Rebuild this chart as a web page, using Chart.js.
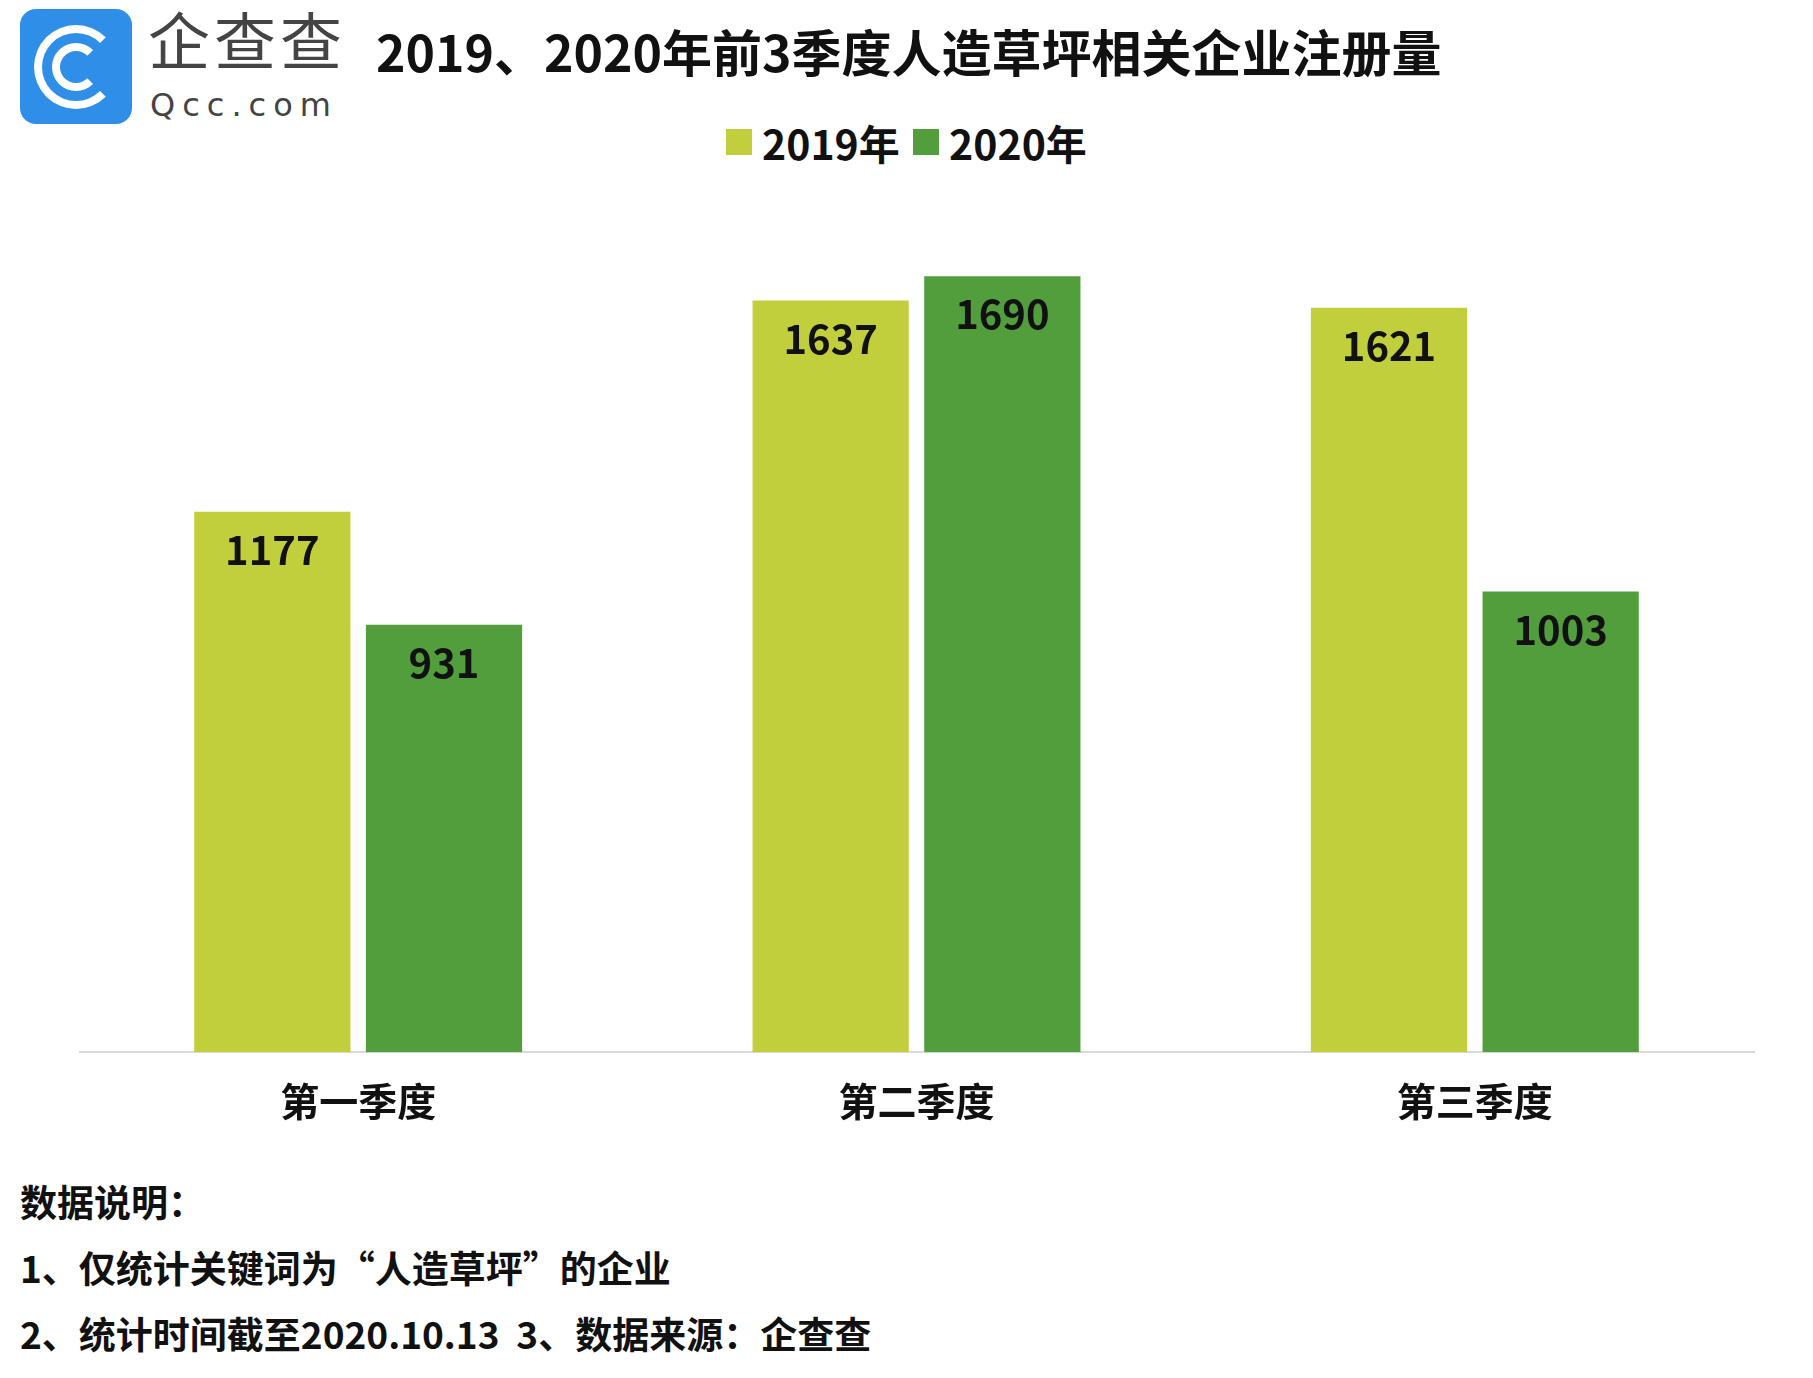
<!DOCTYPE html>
<html><head><meta charset="utf-8">
<script src="https://cdn.jsdelivr.net/npm/chart.js@4"></script>
<style>
body{margin:0;width:1813px;height:1378px;background:#fff;font-family:"Noto Sans CJK SC","Noto Sans",sans-serif;position:relative;overflow:hidden}
.abs{position:absolute}
#logo{left:20px;top:9px;width:112px;height:115px;background:#2f8fe8;border-radius:16px}
#logo .ring{position:absolute;border:8px solid #fff;border-radius:50%;border-right-color:transparent}
#brand{left:148px;top:2px;font-size:62px;color:#444;letter-spacing:4px;line-height:72px}
#qcc{left:150px;top:86px;font-size:32px;color:#444;letter-spacing:7px;font-family:"DejaVu Sans"}
#title{left:376px;top:14px;font-size:50px;font-weight:bold;color:#111}
#legend{left:722px;top:112px;font-size:41px;font-weight:bold;color:#111;display:flex;align-items:center}
#legend i{display:inline-block;width:26px;height:26px;margin:0 10px 0 4px}
.note{left:20px;font-size:37px;font-weight:bold;color:#111}
#wrap{left:79px;top:182px;width:1693px;height:969px}
</style></head><body>
<div id="logo" class="abs">
 <div class="ring" style="left:14px;top:16px;width:68px;height:68px"></div>
 <div class="ring" style="left:32px;top:34px;width:32px;height:32px"></div>
</div>
<div id="brand" class="abs">企查查</div>
<div id="qcc" class="abs">Qcc.com</div>
<div id="title" class="abs">2019、2020年前3季度人造草坪相关企业注册量</div>
<div id="legend" class="abs"><i style="background:#c2cf3c"></i>2019年&nbsp;<i style="background:#529e3d"></i>2020年</div>
<div id="wrap" class="abs"><canvas id="c"></canvas></div>
<div class="abs note" style="top:1174px">数据说明：</div>
<div class="abs note" style="top:1240px">1、仅统计关键词为“人造草坪”的企业</div>
<div class="abs note" style="top:1306px">2、统计时间截至2020.10.13&nbsp;&nbsp;3、数据来源：企查查</div>
<script>
const categories = ['第一季度', '第二季度', '第三季度'];
const values2019 = [1177, 1637, 1621];
const values2020 = [931, 1690, 1003];

const valueLabels = {
  id: 'valueLabels',
  afterDatasetsDraw(chart) {
    const ctx = chart.ctx;
    ctx.save();
    ctx.font = 'bold 40px "Noto Sans CJK SC"';
    ctx.fillStyle = '#111';
    ctx.textAlign = 'center';
    ctx.textBaseline = 'middle';
    chart.data.datasets.forEach((ds, i) => {
      chart.getDatasetMeta(i).data.forEach((bar, j) => {
        ctx.fillText(ds.data[j], bar.x, bar.y + 38);
      });
    });
    ctx.restore();
  }
};

new Chart(document.getElementById('c'), {
  type: 'bar',
  data: {
    labels: categories,
    datasets: [
      { label: '2019年', data: values2019, backgroundColor: '#c2cf3c' },
      { label: '2020年', data: values2020, backgroundColor: '#529e3d' }
    ]
  },
  options: {
    responsive: true,
    maintainAspectRatio: false,
    animation: false,
    layout: { padding: { right: 18 } },
    plugins: { legend: { display: false }, tooltip: { enabled: false } },
    datasets: { bar: { categoryPercentage: 0.615, barPercentage: 0.91 } },
    scales: {
      x: {
        grid: { display: false, drawTicks: false },
        border: { color: '#d9d9d9', width: 2 },
        ticks: { color: '#111', padding: 26, font: { size: 39, weight: 'bold', family: '"Noto Sans CJK SC"' } }
      },
      y: { display: false, min: 0, max: 1895 }
    }
  },
  plugins: [valueLabels]
});
</script>
</body></html>
